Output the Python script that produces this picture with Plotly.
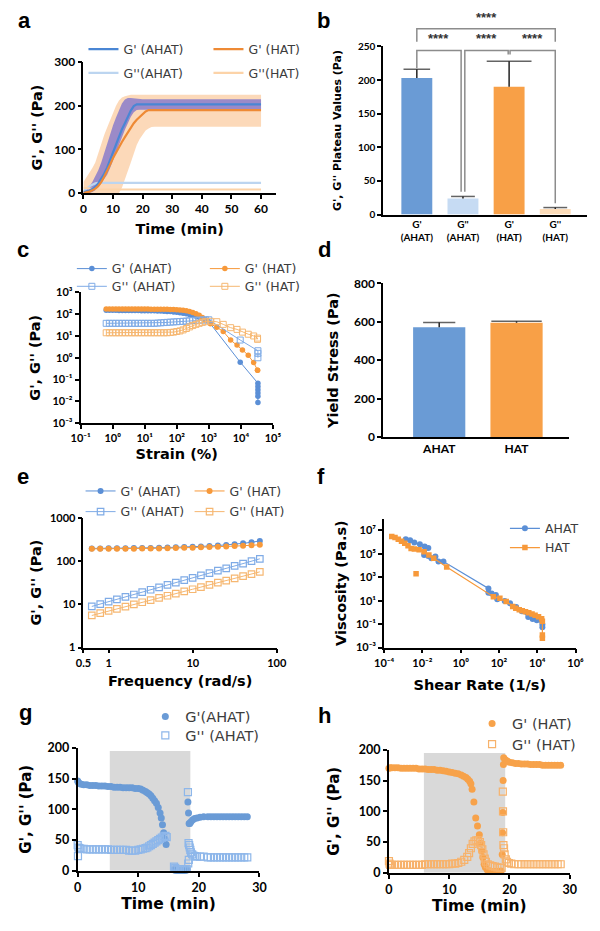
import plotly.graph_objects as go

W, H = 600, 931

# ================= DATA =================
# (a) gelation kinetics
time_a = [0, 1, 2, 3, 4, 5, 6, 7, 8, 9, 10, 11, 12, 13, 14, 15, 16, 17, 18, 19, 20, 21, 22, 23, 24, 25, 26, 30, 40, 50, 60]
gp_ahat_a = [2, 3, 5, 9, 14, 22, 32, 44, 58, 76, 95, 113, 130, 146, 160, 175, 189, 199, 203, 203, 203, 203, 203, 203, 203, 203, 203, 203, 203, 203, 203]
gp_ahat_a_hi = [5, 9, 15, 25, 38, 52, 70, 92, 115, 136, 155, 173, 190, 205, 214, 218, 218, 217, 216, 215, 215, 215, 215, 215, 215, 215, 215, 215, 215, 215, 215]
gp_ahat_a_lo = [0, 0, 0, 2, 6, 13, 22, 31, 42, 57, 75, 92, 110, 127, 145, 160, 175, 185, 190, 191, 191, 191, 191, 191, 191, 191, 191, 191, 191, 191, 191]
gp_hat_a = [0, 1, 3, 6, 10, 16, 25, 37, 50, 65, 80, 93, 105, 117, 128, 139, 150, 160, 168, 175, 182, 187, 190, 190, 190, 190, 190, 190, 190, 190, 190]
gp_hat_a_hi = [25, 35, 45, 57, 70, 92, 115, 133, 150, 168, 185, 200, 212, 219, 222, 224, 225, 225, 225, 225, 225, 225, 225, 225, 225, 225, 225, 225, 225, 225, 225]
gp_hat_a_lo = [0, 0, 0, 0, 0, 0, 0, 0, 0, 0, 0, 0, 0, 12, 30, 50, 70, 90, 110, 124, 135, 143, 148, 151, 152, 152, 152, 152, 152, 152, 152]
gpp_ahat_a = [4, 10, 15, 19, 22, 23, 23, 23, 23, 23, 23, 23, 23, 23, 23, 23, 23, 23, 23, 23, 23, 23, 23, 23, 23, 23, 23, 23, 23, 23, 23]
gpp_hat_a = [12, 11, 10, 9, 8.5, 8, 8, 8, 8, 8, 8, 8, 8, 8, 8, 8, 8, 8, 8, 8, 8, 8, 8, 8, 8, 8, 8, 8, 8, 8, 8]

# (b) plateau values
plateau_labels = ["G'<br>(AHAT)", "G''<br>(AHAT)", "G'<br>(HAT)", "G''<br>(HAT)"]
plateau_values = [203, 24, 190, 8.5]
plateau_errors = [13, 3, 38, 2]

# (c) amplitude sweep
strain_dense = [0.63, 0.79, 1.0, 1.26, 1.58, 2.0, 2.51, 3.16, 3.98, 5.01, 6.31, 7.94, 10, 12.6, 15.8, 20, 25.1, 31.6,
                39.8, 50.1, 63.1, 79.4, 100, 126, 158, 200, 251, 316, 398, 501, 631, 794]
gp_ahat_c_dense = [150, 150, 149, 149, 148, 148, 148, 147, 147, 146, 146, 145, 145, 144, 143, 142, 141,
                   139, 137, 134, 131, 127, 122, 117, 111, 104, 97, 89, 81, 73, 64, 56]
gpp_ahat_c_dense = [38, 38, 38, 38, 38, 38, 38, 38, 38, 38, 38, 38, 38, 38, 38, 38,
                    39, 40, 41, 42, 43, 44, 45, 46, 47, 48, 50, 51, 52, 53, 54, 55]
gp_hat_c_dense = [172, 172, 172, 172, 172, 171, 171, 171, 171, 171, 170, 170, 170, 170, 169, 169, 168, 168, 167, 166, 165,
                  163, 160, 156, 150, 142, 132, 120, 105, 88, 70, 52]
gpp_hat_c_dense = [14, 14, 14, 14, 14, 14, 14, 14, 14, 14, 14, 14, 14, 14, 14, 14, 14, 14, 14, 14,
                   14.5, 15, 16, 17, 19, 22, 26, 30, 34, 38, 42, 45]
strain_ahat_gp_tail = [1000, 9550, 34000, 34000, 34000, 34000, 34000, 34000]
gp_ahat_c_tail = [45, 0.63, 0.068, 0.048, 0.034, 0.024, 0.017, 0.009]
strain_ahat_gpp_tail = [1000, 9550, 34000, 34000, 34000]
gpp_ahat_c_tail = [55, 6.5, 2.1, 1.6, 1.0]
strain_hat_tail = [1120, 1780, 2820, 4790, 7590, 11200, 17000, 25100, 33100, 33100]
gp_hat_c_tail = [36, 25, 16, 6.5, 3.8, 2.3, 1.3, 0.6, 0.27, 0.27]
gpp_hat_c_tail = [47, 45, 34, 24, 20, 15, 12, 10, 8, 7]

# (d) yield stress
yield_labels = ["AHAT", "HAT"]
yield_values = [572, 595]
yield_errors = [25, 8]

# (e) frequency sweep
freq = [0.628, 0.791, 0.996, 1.25, 1.58, 1.99, 2.5, 3.15, 3.97, 5.0, 6.28, 7.91, 9.96, 12.5, 15.8, 19.9, 25.0, 31.5, 39.7, 50.0, 62.8]
gp_ahat_e = [195, 195, 196, 196, 197, 198, 199, 200, 202, 204, 206, 209, 212, 216, 221, 227, 234, 243, 255, 270, 290]
gp_hat_e = [190, 190, 190, 191, 191, 192, 193, 194, 195, 197, 199, 201, 203, 206, 209, 212, 216, 220, 225, 230, 236]
gpp_ahat_e = [8.9, 10.1, 11.5, 13.0, 14.8, 16.8, 19.1, 21.6, 24.5, 27.9, 31.6, 35.9, 40.7, 46.2, 52.5, 59.6, 67.6, 76.7, 87.1, 98.9, 112]
gpp_hat_e = [5.5, 6.2, 7.0, 7.8, 8.8, 9.9, 11.1, 12.5, 14.0, 15.7, 17.6, 19.8, 22.2, 24.9, 28.0, 31.4, 35.2, 39.5, 44.4, 49.8, 56]

# (f) flow curves
shear_ahat = [1.35e-3, 2.29e-3, 3.80e-3, 7.41e-3, 1.32e-2, 2.04e-2, 1.23e-2, 2.04e-2, 2.95e-2, 4.79e-2, 6.92e-2, 0.126,
              28.2, 28.2, 41.7, 69.2, 81.3, 200, 380, 794, 1585, 3390, 5750, 9550, 17000, 18600, 18600]
visc_ahat = [1.74e6, 1.45e6, 9.33e5, 6.61e5, 4.27e5, 3.09e5, 7.94e4, 6.46e4, 4.17e4, 5.75e4, 2.19e4, 2.19e4,
             110, 47.9, 41.7, 30.2, 13.2, 9.55, 6.03, 2.82, 1.26, 0.407, 0.275, 0.214, 0.2, 0.0912, 0.055]
shear_hat = [2.51e-4, 3.72e-4, 5.50e-4, 8.13e-4, 1.20e-3, 1.78e-3, 2.57e-3, 3.80e-3, 6.76e-3, 1.23e-2, 2.19e-2, 3.89e-2, 0.186,
             51.3, 112, 240, 525, 759, 1150, 1660, 2450, 3630, 5370, 7760, 11700, 17000, 18600, 18600, 18600]
visc_hat = [2.95e6, 2.45e6, 1.74e6, 1.20e6, 8.13e5, 4.79e5, 2.88e5, 2.51e5, 2.24e5, 1.51e5, 7.94e4, 4.17e4, 7410,
            21.9, 15.8, 8.32, 3.16, 2.29, 1.66, 1.35, 1.12, 0.933, 0.724, 0.562, 0.427, 0.288, 0.174, 0.0117, 0.00617]
shear_hat_outlier = [4.68e-3]
visc_hat_outlier = [2000]

# (g) recovery AHAT
time_g_gp = [0, 0.1, 0.3, 0.6, 1.0, 1.5, 2.0, 2.5, 3.0, 3.5, 4.0, 4.5, 5.0, 5.5, 6.0, 6.5, 7.0, 7.5, 8.0, 8.5, 9.0, 9.5,
             10.0, 10.4, 10.8, 11.2, 11.5, 11.8, 12.1, 12.4, 12.7, 13.0, 13.3, 13.6, 13.8, 14.0, 14.2, 14.4, 14.6,
             15.9, 16.1, 16.3, 16.5, 16.7, 16.9, 17.1, 17.3, 17.5, 17.7, 17.9, 18.1, 18.2, 18.3, 18.4, 18.5, 18.7,
             19.0, 19.3, 19.7, 20.2, 20.8, 21.5, 22.0, 22.5, 23.0, 23.5, 24.0, 24.5, 25.0, 25.5, 26.0, 26.5, 27.0, 27.5, 28.0]
gp_g = [146, 144, 142, 141, 140, 140, 139, 139, 139, 138, 138, 138, 137, 137, 136, 136, 136, 135, 135, 135, 135, 134,
        134, 133, 131, 129, 127, 125, 122, 118, 114, 110, 103, 94, 86, 75, 62, 52, 43,
        2, 1, 1, 1, 1, 1, 1, 1, 1, 1, 1, 2, 112, 94, 77, 77, 80,
        83, 85, 86, 87, 88, 88, 88, 88, 88, 88, 88, 88, 88, 88, 88, 88, 88, 88, 88]
time_g_gpp = [0, 0.05, 0.1, 0.3, 0.6, 1.0, 1.5, 2.0, 2.5, 3.0, 3.5, 4.0, 4.5, 5.0, 5.5, 6.0, 6.5, 7.0, 7.5, 8.0, 8.5, 9.0, 9.5,
              10.0, 10.4, 10.8, 11.2, 11.5, 11.8, 12.1, 12.4, 12.7, 13.0, 13.3, 13.6, 13.9, 14.2, 14.5, 14.7,
              15.9, 16.1, 16.3, 16.6, 16.9, 17.2, 17.5, 17.8, 18.0, 18.2, 18.25, 18.3, 18.35, 18.4, 18.5, 18.6, 18.7,
              18.9, 19.1, 19.4, 19.7, 20.2, 20.8, 21.5, 22.0, 22.5, 23.0, 23.5, 24.0, 24.5, 25.0, 25.5, 26.0, 26.5, 27.0, 27.5, 28.0]
gpp_g = [42, 24, 38, 37, 36, 36, 35, 35, 35, 35, 35, 35, 35, 35, 34, 34, 34, 34, 34, 34, 33, 33, 33,
         34, 35, 36, 37, 38, 40, 42, 44, 46, 48, 50, 52, 54, 56, 57, 55,
         7, 5, 3, 3, 3, 3, 3, 3, 3, 128, 12, 45, 18, 42, 38, 34, 30,
         27, 25, 24, 23, 23, 23, 22, 22, 22, 22, 22, 22, 22, 22, 22, 22, 22, 22, 22, 22]
shear_window_g = [5.3, 18.6]

# (h) recovery HAT
time_h_gp = [0, 0.2, 0.5, 1.0, 1.5, 2.0, 2.5, 3.0, 3.5, 4.0, 4.5, 5.0, 5.5, 6.0, 6.5, 7.0, 7.5, 8.0, 8.5, 9.0, 9.5,
             10.0, 10.5, 11.0, 11.5, 12.0, 12.4, 12.8, 13.1, 13.4, 13.6, 13.8, 14.1, 14.4, 14.7, 15.0, 15.2, 15.4, 15.6,
             15.8, 16.0, 16.3, 16.6, 17.0, 17.4, 17.8, 18.2, 18.6, 18.8, 18.85, 18.9, 18.95, 19.0, 19.05, 19.3, 19.6,
             20.0, 20.5, 21.0, 21.5, 22.0, 22.5, 23.0, 23.5, 24.0, 24.5, 25.0, 25.5, 26.0, 26.5, 27.0, 27.5, 28.0, 28.5]
gp_h = [170, 171, 171, 171, 171, 170, 170, 170, 170, 170, 170, 169, 169, 169, 168, 168, 168, 167, 167, 166, 165,
        164, 163, 162, 161, 159, 157, 155, 152, 149, 145, 136, 115, 89, 76, 62, 48, 36, 25,
        14, 9, 5, 3, 2, 2, 2, 2, 3, 30, 65, 98, 150, 176, 187, 184, 182,
        180, 179, 178, 178, 177, 177, 177, 176, 176, 176, 176, 175, 175, 175, 175, 175, 175, 175]
time_h_gpp = [0, 0.1, 0.2, 0.5, 1.0, 1.5, 2.0, 2.5, 3.0, 3.5, 4.0, 4.5, 5.0, 5.5, 6.0, 6.5, 7.0, 7.5, 8.0, 8.5, 9.0, 9.5,
              10.0, 10.5, 11.0, 11.5, 12.0, 12.5, 13.0, 13.3, 13.6, 13.9, 14.2, 14.5, 14.8, 15.1, 15.3, 15.5, 15.7,
              15.9, 16.1, 16.4, 16.8, 17.2, 17.6, 18.0, 18.4, 18.7, 18.9, 18.93, 18.96, 19.0, 19.1, 19.2, 19.4, 19.6,
              19.9, 20.3, 20.8, 21.5, 22.0, 22.5, 23.0, 23.5, 24.0, 24.5, 25.0, 25.5, 26.0, 26.5, 27.0, 27.5, 28.0, 28.5]
gpp_h = [19, 15, 13, 13, 13, 13, 13, 13, 13, 13, 13, 13, 13, 13, 14, 14, 14, 14, 14, 14, 14, 14,
         14, 15, 15, 16, 18, 21, 26, 32, 40, 47, 51, 53, 53, 50, 45, 38, 30,
         23, 18, 14, 12, 11, 10, 9, 8, 8, 132, 100, 66, 45, 40, 30, 22, 18,
         16, 15, 14, 14, 14, 14, 14, 14, 14, 14, 14, 14, 14, 14, 14, 14, 14, 14]
shear_window_h = [5.8, 19.3]

# log-axis tick labels
SUP = {"-": "\u207b", "0": "\u2070", "1": "\u00b9", "2": "\u00b2", "3": "\u00b3", "4": "\u2074",
       "5": "\u2075", "6": "\u2076", "7": "\u2077"}


def pow10(v):
    return "10" + "".join(SUP[c] for c in str(v))


# ================= STYLE =================
BLUE = "#5b8fd6"
BLUE_L = "#7fabe6"
ORANGE = "#f7993a"
ORANGE_L = "#f6b771"
INK = "#222222"
TICK = dict(family="Lato", size=12, color="black", weight="bold")
TITLE = dict(family="DejaVu Sans", size=14.5, color="black", weight="bold")
LEGFONT = dict(family="DejaVu Sans", size=12.5, color="#3c3c3c")

# panel pixel boxes (left, right, top, bottom)
BOX = {1: (76, 275, 55, 188), 2: (386, 597, 39, 210), 3: (73, 272, 289, 422), 4: (386, 578, 280, 436),
       5: (76, 276, 518, 650), 6: (387, 585, 519, 650), 7: (70, 258, 752, 877), 8: (392, 579, 754, 879)}


def dom(n):
    l, r, t, b = BOX[n]
    return [l / W, r / W], [1 - b / H, 1 - t / H]


def axis(n, which, **kw):
    xd, yd = dom(n)
    other = ("y" if which == "x" else "x") + ("" if n == 1 else str(n))
    d = dict(domain=xd if which == "x" else yd, anchor=other, showline=True, linecolor="black", linewidth=1.7,
             ticks="outside", ticklen=4, tickwidth=1.6, tickcolor="black", showgrid=False, zeroline=False,
             tickfont=TICK, mirror=False)
    d.update(kw)
    return d


def ttl(text, standoff, size=14.5):
    f = dict(TITLE)
    f["size"] = size
    return dict(text=text, font=f, standoff=standoff)


fig = go.Figure()

# ---------- (a) ----------
fig.add_trace(go.Scatter(x=time_a, y=gp_hat_a_lo, mode="lines", line=dict(width=0), showlegend=False, hoverinfo="skip"))
fig.add_trace(go.Scatter(x=time_a, y=gp_hat_a_hi, mode="lines", line=dict(width=0), fill="tonexty",
                         fillcolor="rgba(248,170,100,0.45)", showlegend=False, hoverinfo="skip"))
fig.add_trace(go.Scatter(x=time_a, y=gp_ahat_a_lo, mode="lines", line=dict(width=0), showlegend=False, hoverinfo="skip"))
fig.add_trace(go.Scatter(x=time_a, y=gp_ahat_a_hi, mode="lines", line=dict(width=0), fill="tonexty",
                         fillcolor="rgba(90,85,210,0.6)", showlegend=False, hoverinfo="skip"))
fig.add_trace(go.Scatter(x=time_a, y=gpp_ahat_a, mode="lines", name="G''(AHAT)", line=dict(color="#bcd5f0", width=2.2),
                         legend="legend2"))
fig.add_trace(go.Scatter(x=time_a, y=gpp_hat_a, mode="lines", name="G''(HAT)", line=dict(color="#fcd3a8", width=2.2),
                         legend="legend2"))
fig.add_trace(go.Scatter(x=time_a, y=gp_ahat_a, mode="lines", name="G' (AHAT)", line=dict(color="#4a86d4", width=2.2),
                         legend="legend"))
fig.add_trace(go.Scatter(x=time_a, y=gp_hat_a, mode="lines", name="G' (HAT)", line=dict(color="#ee8a35", width=2.2),
                         legend="legend"))

# ---------- (b) ----------
fig.add_trace(go.Bar(x=[0, 1, 2, 3], y=plateau_values, width=0.67,
                     marker=dict(color=["#6a9bd5", "#c6dbf3", "#f8a047", "#fcdcb9"], line=dict(width=0)),
                     xaxis="x2", yaxis="y2", showlegend=False))
fig.add_trace(go.Scatter(x=[0, 1, 2, 3], y=[v + e for v, e in zip(plateau_values, plateau_errors)], mode="markers",
                         marker=dict(symbol="line-ew-open", size=[19, 17, 32, 17], color=INK, line=dict(width=1.5, color=INK)),
                         error_y=dict(type="data", array=[0, 0, 0, 0], arrayminus=plateau_errors, symmetric=False,
                                      width=0, thickness=1.5, color=INK),
                         xaxis="x2", yaxis="y2", showlegend=False, cliponaxis=False, hoverinfo="skip"))

# ---------- (c) ----------
fig.add_trace(go.Scatter(x=strain_dense + strain_ahat_gp_tail, y=gp_ahat_c_dense + gp_ahat_c_tail, mode="lines+markers",
                         name="G' (AHAT)", line=dict(color=BLUE, width=1),
                         marker=dict(symbol="circle", size=5.5, color=BLUE), xaxis="x3", yaxis="y3", legend="legend3"))
fig.add_trace(go.Scatter(x=strain_dense + strain_hat_tail, y=gp_hat_c_dense + gp_hat_c_tail, mode="lines+markers",
                         name="G' (HAT)", line=dict(color=ORANGE, width=1),
                         marker=dict(symbol="circle", size=5.5, color=ORANGE), xaxis="x3", yaxis="y3", legend="legend3"))
fig.add_trace(go.Scatter(x=strain_dense + strain_ahat_gpp_tail, y=gpp_ahat_c_dense + gpp_ahat_c_tail, mode="lines+markers",
                         name="G'' (AHAT)", line=dict(color=BLUE_L, width=1),
                         marker=dict(symbol="square-open", size=6, color=BLUE_L, line=dict(width=1)),
                         xaxis="x3", yaxis="y3", legend="legend4"))
fig.add_trace(go.Scatter(x=strain_dense + strain_hat_tail, y=gpp_hat_c_dense + gpp_hat_c_tail, mode="lines+markers",
                         name="G'' (HAT)", line=dict(color=ORANGE_L, width=1),
                         marker=dict(symbol="square-open", size=6, color=ORANGE_L, line=dict(width=1)),
                         xaxis="x3", yaxis="y3", legend="legend4"))

# ---------- (d) ----------
fig.add_trace(go.Bar(x=[0, 1], y=yield_values, width=0.675, marker=dict(color=["#6a9bd5", "#f8a047"], line=dict(width=0)),
                     xaxis="x4", yaxis="y4", showlegend=False))
fig.add_trace(go.Scatter(x=[0, 1], y=[v + e for v, e in zip(yield_values, yield_errors)], mode="markers",
                         marker=dict(symbol="line-ew-open", size=[23, 36], color=INK, line=dict(width=1.5, color=INK)),
                         error_y=dict(type="data", array=[0, 0], arrayminus=yield_errors, symmetric=False,
                                      width=0, thickness=1.5, color=INK),
                         xaxis="x4", yaxis="y4", showlegend=False, cliponaxis=False, hoverinfo="skip"))

# ---------- (e) ----------
fig.add_trace(go.Scatter(x=freq, y=gp_ahat_e, mode="lines+markers", name="G' (AHAT)", line=dict(color=BLUE, width=1),
                         marker=dict(symbol="circle", size=6, color=BLUE), xaxis="x5", yaxis="y5", legend="legend5"))
fig.add_trace(go.Scatter(x=freq, y=gp_hat_e, mode="lines+markers", name="G' (HAT)", line=dict(color=ORANGE, width=1),
                         marker=dict(symbol="circle", size=6, color=ORANGE), xaxis="x5", yaxis="y5", legend="legend5"))
fig.add_trace(go.Scatter(x=freq, y=gpp_ahat_e, mode="lines+markers", name="G'' (AHAT)", line=dict(color=BLUE_L, width=1),
                         marker=dict(symbol="square-open", size=6.5, color=BLUE_L, line=dict(width=1.2)),
                         xaxis="x5", yaxis="y5", legend="legend6"))
fig.add_trace(go.Scatter(x=freq, y=gpp_hat_e, mode="lines+markers", name="G'' (HAT)", line=dict(color=ORANGE_L, width=1),
                         marker=dict(symbol="square-open", size=6.5, color=ORANGE_L, line=dict(width=1.2)),
                         xaxis="x5", yaxis="y5", legend="legend6"))

# ---------- (f) ----------
fig.add_trace(go.Scatter(x=shear_ahat, y=visc_ahat, mode="lines+markers", name="AHAT", line=dict(color=BLUE, width=1.2),
                         marker=dict(symbol="circle", size=6, color=BLUE), xaxis="x6", yaxis="y6", legend="legend7"))
fig.add_trace(go.Scatter(x=shear_hat, y=visc_hat, mode="lines+markers", name="HAT", line=dict(color=ORANGE, width=1.2),
                         marker=dict(symbol="square", size=5.5, color=ORANGE), xaxis="x6", yaxis="y6", legend="legend7"))
fig.add_trace(go.Scatter(x=shear_hat_outlier, y=visc_hat_outlier, mode="markers", showlegend=False,
                         marker=dict(symbol="square", size=5.5, color=ORANGE), xaxis="x6", yaxis="y6"))

# ---------- (g) ----------
fig.add_trace(go.Scatter(x=time_g_gp, y=gp_g, mode="markers", name="G'(AHAT)", cliponaxis=False,
                         marker=dict(symbol="circle", size=7, color="#6a9bd6"), xaxis="x7", yaxis="y7", legend="legend8"))
fig.add_trace(go.Scatter(x=time_g_gpp, y=gpp_g, mode="markers", name="G'' (AHAT)", cliponaxis=False,
                         marker=dict(symbol="square-open", size=7, color="#8eb7ea", line=dict(width=1.2)),
                         xaxis="x7", yaxis="y7", legend="legend10"))

# ---------- (h) ----------
fig.add_trace(go.Scatter(x=time_h_gp, y=gp_h, mode="markers", name="G' (HAT)", cliponaxis=False,
                         marker=dict(symbol="circle", size=7, color="#f7a24a"), xaxis="x8", yaxis="y8", legend="legend9"))
fig.add_trace(go.Scatter(x=time_h_gpp, y=gpp_h, mode="markers", name="G'' (HAT)", cliponaxis=False,
                         marker=dict(symbol="square-open", size=7, color="#f7b26b", line=dict(width=1.2)),
                         xaxis="x8", yaxis="y8", legend="legend11"))

# ================= AXES =================
lay = {}
lay["xaxis"] = axis(1, "x", range=[0, 65], tickvals=[0, 10, 20, 30, 40, 50, 60], title=ttl("Time (min)", 9))
lay["yaxis"] = axis(1, "y", range=[0, 300], tickvals=[0, 100, 200, 300], title=ttl("G', G'' (Pa)", 8))

tick_b = dict(TICK); tick_b["size"] = 10
lay["xaxis2"] = axis(2, "x", range=[-0.73, 3.69], tickvals=[0, 1, 2, 3], ticktext=plateau_labels, ticks="",
                     tickfont=tick_b)
lay["yaxis2"] = axis(2, "y", range=[0, 250], tickvals=[0, 50, 100, 150, 200, 250], tickfont=tick_b,
                     title=ttl("G', G'' Plateau Values (Pa)", 14, size=11))

tick_c = dict(TICK); tick_c["size"] = 11
lay["xaxis3"] = axis(3, "x", type="log", range=[-1, 5], tickvals=[0.1, 1, 10, 100, 1e3, 1e4, 1e5],
                     ticktext=[pow10(v) for v in range(-1, 6)], tickfont=tick_c, title=ttl("Strain (%)", 6))
lay["yaxis3"] = axis(3, "y", type="log", range=[-3, 3], tickvals=[1e-3, 1e-2, 0.1, 1, 10, 100, 1e3],
                     ticktext=[pow10(v) for v in range(-3, 4)], tickfont=tick_c, title=ttl("G', G'' (Pa)", 8))

tick_d = dict(TICK); tick_d["size"] = 12
lay["xaxis4"] = axis(4, "x", range=[-0.725, 1.675], tickvals=[0, 1], ticktext=yield_labels, ticks="", tickfont=tick_d)
lay["yaxis4"] = axis(4, "y", range=[0, 800], tickvals=[0, 200, 400, 600, 800], tickfont=tick_d,
                     title=ttl("Yield Stress (Pa)", 12))

lay["xaxis5"] = axis(5, "x", type="log", range=[-0.30103, 2], tickvals=[0.5, 1, 10, 100],
                     ticktext=["0.5", "1", "10", "100"], tickfont=tick_c, title=ttl("Frequency (rad/s)", 8))
lay["yaxis5"] = axis(5, "y", type="log", range=[0, 3], tickvals=[1, 10, 100, 1000],
                     ticktext=["1", "10", "100", "1000"], tickfont=tick_c, title=ttl("G', G'' (Pa)", 5))

lay["xaxis6"] = axis(6, "x", type="log", range=[-4, 6], tickvals=[1e-4, 1e-2, 1, 1e2, 1e4, 1e6],
                     ticktext=[pow10(v) for v in range(-4, 7, 2)], tickfont=tick_c, title=ttl("Shear Rate (1/s)", 12))
lay["yaxis6"] = axis(6, "y", type="log", range=[-3, 8], tickvals=[1e-3, 1e-1, 10, 1e3, 1e5, 1e7],
                     ticktext=[pow10(v) for v in range(-3, 8, 2)], tickfont=tick_c, title=ttl("Viscosity (Pa.s)", 6))

tick_g = dict(TICK); tick_g["size"] = 12.5
lay["xaxis7"] = axis(7, "x", range=[0, 30], tickvals=[0, 10, 20, 30], tickfont=tick_g, title=ttl("Time (min)", 3, 15.5))
lay["yaxis7"] = axis(7, "y", range=[0, 200], tickvals=[0, 50, 100, 150, 200], tickfont=tick_g,
                     title=ttl("G', G'' (Pa)", 12, 15))
lay["xaxis8"] = axis(8, "x", range=[0, 30], tickvals=[0, 10, 20, 30], tickfont=tick_g, title=ttl("Time (min)", 3, 15.5))
lay["yaxis8"] = axis(8, "y", range=[0, 200], tickvals=[0, 50, 100, 150, 200], tickfont=tick_g,
                     title=ttl("G', G'' (Pa)", 16, 15))


# ================= LEGENDS =================
def leg(text_x, center_y, orientation="h", entrywidth=None, size=12.5, off=14):
    f = dict(LEGFONT); f["size"] = size
    shift = 46 if orientation == "h" else 40
    d = dict(x=(text_x - shift) / W, y=1 - (center_y - off) / H, xanchor="left", yanchor="top", orientation=orientation,
             bgcolor="rgba(0,0,0,0)", borderwidth=0, font=f, itemwidth=30, tracegroupgap=0, traceorder="normal")
    if entrywidth:
        d["entrywidth"] = entrywidth
        d["entrywidthmode"] = "pixels"
    return d


lay["legend"] = leg(122, 41, entrywidth=80)
lay["legend2"] = leg(122, 65, entrywidth=80)
lay["legend3"] = leg(110, 264, entrywidth=88)
lay["legend4"] = leg(110, 282, entrywidth=88)
lay["legend5"] = leg(119, 490, entrywidth=64)
lay["legend6"] = leg(119, 511, entrywidth=64)
lay["legend7"] = leg(552, 528, orientation="v")
lay["legend8"] = leg(186, 720, size=14.5, off=16)
lay["legend10"] = leg(186, 739, size=14.5, off=16)
lay["legend9"] = leg(524, 727, size=14.5, off=16)
lay["legend11"] = leg(524, 748, size=14.5, off=16)

# ================= SHAPES / ANNOTATIONS =================
shapes = []
for n, win in ((7, shear_window_g), (8, shear_window_h)):
    shapes.append(dict(type="rect", xref="x%d" % n, yref="y%d" % n, x0=win[0], x1=win[1], y0=0, y1=195,
                       fillcolor="#d9d9d9", line=dict(width=0), layer="below"))

# significance brackets for (b) in paper coordinates
bxd, byd = dom(2)
bxr, byr = lay["xaxis2"]["range"], lay["yaxis2"]["range"]


def bx(i):
    return bxd[0] + (i - bxr[0]) / (bxr[1] - bxr[0]) * (bxd[1] - bxd[0])


def by(v):
    return byd[0] + (v - byr[0]) / (byr[1] - byr[0]) * (byd[1] - byd[0])


brackets = [  # (x_left, x_right, y_line, y_leg_left, y_leg_right)
    (0, 3, 276, 257, 257),
    (0, 0.96, 244, 218, 34),
    (1.04, 1.98, 244, 34, 238),
    (2.02, 3, 244, 238, 17),
]
annotations = []
for x0, x1, yl, y0, y1 in brackets:
    shapes.append(dict(type="path", xref="paper", yref="paper",
                       path="M %f,%f L %f,%f L %f,%f L %f,%f" % (bx(x0), by(y0), bx(x0), by(yl), bx(x1), by(yl), bx(x1), by(y1)),
                       line=dict(color="#8c8c8c", width=1.5)))
    annotations.append(dict(xref="paper", yref="paper", x=(bx(x0) + bx(x1)) / 2, y=by(yl) + 2 / H, text="****",
                            showarrow=False, xanchor="center", yanchor="bottom",
                            font=dict(family="Liberation Sans", size=13, color="#333333", weight="bold")))

letters = [("a", 6, 21), ("b", 315, 21), ("c", 5, 253), ("d", 317, 253), ("e", 5, 484), ("f", 315, 484),
           ("g", 7, 724), ("h", 317, 727)]
for t, lx, base in letters:
    annotations.append(dict(xref="paper", yref="paper", x=lx / W, y=1 - (base - 8) / H, text=t, showarrow=False,
                            xanchor="left", yanchor="middle",
                            font=dict(family="Liberation Sans", size=22, color="black", weight="bold")))

fig.update_layout(width=W, height=H, margin=dict(l=0, r=0, t=0, b=0), paper_bgcolor="white", plot_bgcolor="white",
                  shapes=shapes, annotations=annotations, **lay)
fig.write_html("out.html", config={"displayModeBar": False}, post_script="document.body.style.margin='0';")
